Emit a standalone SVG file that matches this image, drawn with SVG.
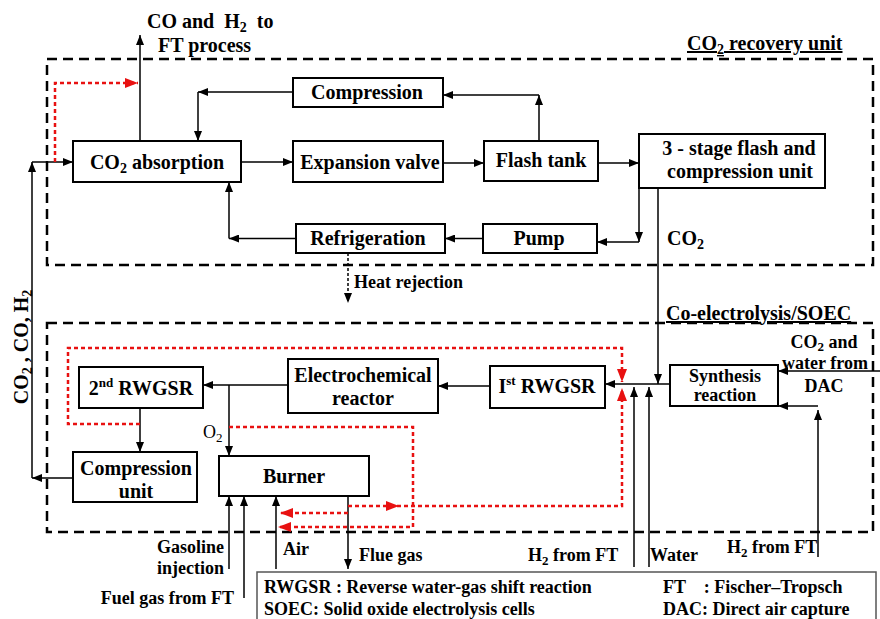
<svg xmlns="http://www.w3.org/2000/svg" width="880" height="619" viewBox="0 0 880 619">
<defs>
<style>
.box{fill:#fff;stroke:#000;stroke-width:2}
.dash{fill:none;stroke:#000;stroke-width:2.5;stroke-dasharray:10 6}
.ln{fill:none;stroke:#000;stroke-width:1.5}
.red{fill:none;stroke:#e81111;stroke-width:2.5;stroke-dasharray:4 3}
.dot{fill:none;stroke:#000;stroke-width:1.5;stroke-dasharray:3 2}
text{font-family:"Liberation Serif","Times New Roman",serif;font-weight:bold;font-size:20px;fill:#000}
.s{font-size:18px}
.m{text-anchor:middle}
.e{text-anchor:end}
.n{font-weight:normal}
</style>
<marker id="a" viewBox="0 0 10 8" refX="10" refY="4" markerWidth="10" markerHeight="8" markerUnits="userSpaceOnUse" orient="auto"><path d="M0,0 L10,4 L0,8 z" fill="#000"/></marker>
<marker id="r" viewBox="0 0 13 10" refX="13" refY="5" markerWidth="13" markerHeight="10" markerUnits="userSpaceOnUse" orient="auto"><path d="M0,0 L13,5 L0,10 z" fill="#e81111"/></marker>
</defs>
<rect width="880" height="619" fill="#fff"/>

<g id="co2-recovery-unit">
<rect x="47" y="59" width="826" height="206" class="dash"/>
<text x="687" y="50" text-decoration="underline">CO<tspan font-size="14" dy="4">2</tspan><tspan dy="-4"> recovery unit</tspan></text>
</g>
<g id="co-electrolysis-soec">
<rect x="47" y="323" width="826" height="209" class="dash"/>
<text x="666" y="320" text-decoration="underline">Co-electrolysis/SOEC</text>
</g>

<g id="connectors">
<path class="ln" d="M140,141 V35" marker-end="url(#a)"/>
<path class="ln" d="M293,92 H198" marker-end="url(#a)"/>
<path class="ln" d="M198,92 V141" marker-end="url(#a)"/>
<path class="ln" d="M539,141 V95" marker-end="url(#a)"/>
<path class="ln" d="M539,95 H443" marker-end="url(#a)"/>
<path class="ln" d="M241,162 H293" marker-end="url(#a)"/>
<path class="ln" d="M443,163 H484" marker-end="url(#a)"/>
<path class="ln" d="M598,163 H639" marker-end="url(#a)"/>
<path class="ln" d="M639,188 V242" marker-end="url(#a)"/>
<path class="ln" d="M639,242 H597" marker-end="url(#a)"/>
<path class="ln" d="M483,238.5 H445" marker-end="url(#a)"/>
<path class="ln" d="M296,238.5 H229" marker-end="url(#a)"/>
<path class="ln" d="M229,238.5 V182" marker-end="url(#a)"/>
<path class="dot" d="M348,253 V303" marker-end="url(#a)"/>
<path class="ln" d="M658,188 V384" marker-end="url(#a)"/>
<path class="ln" d="M670,384 H605" marker-end="url(#a)"/>
<path class="ln" d="M634,567 V387" marker-end="url(#a)"/>
<path class="ln" d="M649,567 V387" marker-end="url(#a)"/>
<path class="ln" d="M880,371 H778" marker-end="url(#a)"/>
<path class="ln" d="M818,557 V410" marker-end="url(#a)"/>
<path class="ln" d="M818,406 H778" marker-end="url(#a)"/>
<path class="ln" d="M490,386 H438" marker-end="url(#a)"/>
<path class="ln" d="M288,385 H203" marker-end="url(#a)"/>
<path class="ln" d="M229,385 V456" marker-end="url(#a)"/>
<path class="ln" d="M140,408 V452" marker-end="url(#a)"/>
<path class="ln" d="M73,478 H32" marker-end="url(#a)"/>
<path class="ln" d="M32,478 V162" marker-end="url(#a)"/>
<path class="ln" d="M32,162 H73" marker-end="url(#a)"/>
<path class="ln" d="M229,569 V496" marker-end="url(#a)"/>
<path class="ln" d="M244,598 V496" marker-end="url(#a)"/>
<path class="ln" d="M276,569 V496" marker-end="url(#a)"/>
<path class="ln" d="M348,496 V569" marker-end="url(#a)"/>
<path class="red" d="M55,162 V83 H138" marker-end="url(#r)"/>
<path class="red" d="M140,424 H68 V348 H622 V382" marker-end="url(#r)"/>
<path class="red" d="M348,506 H622 V388" marker-end="url(#r)"/>
<path d="M386,501 L399,506 L386,511 z" fill="#e81111"/>
<path class="red" d="M229,427 H413 V527 H278" marker-end="url(#r)"/>
<path class="red" d="M348,513 H280" marker-end="url(#r)"/>
</g>

<g id="co2-absorption"><rect class="box" x="73" y="141" width="168" height="41"/><text class="m" x="157" y="169">CO<tspan font-size="14" dy="4">2</tspan><tspan dy="-4"> absorption</tspan></text></g>
<g id="compression"><rect class="box" x="293" y="78" width="150" height="29"/><text class="m" x="367" y="99">Compression</text></g>
<g id="expansion-valve"><rect class="box" x="293" y="141" width="150" height="41"/><text class="m" x="370" y="169">Expansion valve</text></g>
<g id="flash-tank"><rect class="box" x="484" y="141" width="114" height="40"/><text class="m" x="541" y="167">Flash tank</text></g>
<g id="three-stage"><rect class="box" x="639" y="134" width="186" height="54"/><text class="m" x="739" y="155">3 - stage flash and</text><text class="m" x="740" y="178">compression unit</text></g>
<g id="refrigeration"><rect class="box" x="296" y="224" width="149" height="29"/><text class="m" x="368" y="245">Refrigeration</text></g>
<g id="pump"><rect class="box" x="483" y="224" width="114" height="29"/><text class="m" x="539" y="245">Pump</text></g>

<g id="rwgsr-2"><rect class="box" x="79" y="367" width="124" height="41"/><text class="m" x="141" y="395">2<tspan font-size="13" dy="-8">nd</tspan><tspan dy="8"> RWGSR</tspan></text></g>
<g id="electrochemical-reactor"><rect class="box" x="288" y="359" width="150" height="54"/><text class="m" x="363" y="382">Electrochemical</text><text class="m" x="363" y="405">reactor</text></g>
<g id="rwgsr-1"><rect class="box" x="490" y="366" width="115" height="42"/><text class="m" x="547" y="393">I<tspan font-size="13" dy="-8">st</tspan><tspan dy="8"> RWGSR</tspan></text></g>
<g id="synthesis-reaction"><rect class="box" x="670" y="365" width="108" height="41"/><text class="m s" x="725" y="382">Synthesis</text><text class="m s" x="725" y="401">reaction</text></g>
<g id="compression-unit"><rect class="box" x="73" y="452" width="124" height="50"/><text class="m" x="136" y="475">Compression</text><text class="m" x="136" y="498">unit</text></g>
<g id="burner"><rect class="box" x="219" y="456" width="150" height="40"/><text class="m" x="294" y="483">Burner</text></g>

<g id="labels">
<text x="147" y="28" xml:space="preserve">CO and  H<tspan font-size="14" dy="4">2</tspan><tspan dy="-4">  to</tspan></text>
<text x="158" y="52">FT process</text>
<text transform="translate(28,347) rotate(-90)" class="m">CO<tspan font-size="14" dy="4">2</tspan><tspan dy="-4"> , CO, H</tspan><tspan font-size="14" dy="4">2</tspan></text>
<text x="667" y="245">CO<tspan font-size="14" dy="4">2</tspan></text>
<text class="s" x="354" y="288">Heat rejection</text>
<text class="s n" x="203" y="438">O<tspan font-size="13" dy="4">2</tspan></text>
<text class="m s" x="824" y="348">CO<tspan font-size="13" dy="3">2</tspan><tspan dy="-3"> and</tspan></text>
<text class="m s" x="825" y="369">water from</text>
<text class="m s" x="824" y="392">DAC</text>
<text class="s e" x="224" y="553">Gasoline</text>
<text class="s e" x="224" y="574">injection</text>
<text class="s e" x="234" y="604">Fuel gas from FT</text>
<text class="s" x="283" y="555">Air</text>
<text class="s" x="359" y="561">Flue gas</text>
<text class="s" x="528" y="561">H<tspan font-size="13" dy="4">2</tspan><tspan dy="-4"> from FT</tspan></text>
<text class="s" x="650" y="561">Water</text>
<text class="s" x="727" y="553">H<tspan font-size="13" dy="4">2</tspan><tspan dy="-4"> from FT</tspan></text>
</g>

<g id="legend">
<rect x="257" y="572" width="619" height="60" fill="#fff" stroke="#555" stroke-width="1.5"/>
<text class="s" x="264" y="593">RWGSR : Reverse water-gas shift reaction</text>
<text class="s" x="264" y="615">SOEC: Solid oxide electrolysis cells</text>
<text class="s" x="663" y="593" xml:space="preserve">FT    : Fischer–Tropsch</text>
<text class="s" x="663" y="615">DAC: Direct air capture</text>
</g>
</svg>
